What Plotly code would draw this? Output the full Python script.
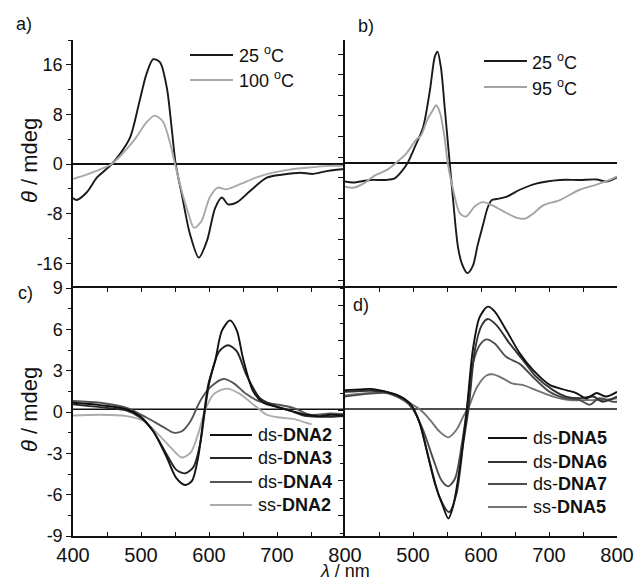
import plotly.graph_objects as go

W, H = 636, 583

# ---- panel a: 25 C vs 100 C ----
a_wl_25 = [400, 405, 420, 435, 445, 457, 469, 484, 498, 508, 518, 528, 538, 545, 551, 560, 572,
           585, 597, 609, 619, 628, 641, 660, 685, 709, 734, 753, 775, 800]
a_cd_25 = [-5.5, -5.8, -4.6, -2.2, -1.2, 0.0, 1.6, 4.3, 10.2, 14.5, 16.9, 16.4, 12.3, 5.9, 0.0, -4.9, -11.3,
           -15.1, -12.4, -7.1, -5.4, -6.5, -6.2, -4.4, -2.2, -1.7, -1.4, -1.6, -1.1, -0.8]
a_wl_100 = [400, 420, 439, 457, 474, 493, 508, 520, 532, 542, 550, 560, 570, 578, 589, 601, 613,
            625, 645, 669, 694, 718, 743, 777, 800]
a_cd_100 = [-2.4, -1.7, -0.9, 0.0, 1.8, 4.3, 6.7, 7.8, 6.9, 3.7, 0.0, -4.4, -8.1, -10.3, -9.2, -5.4, -3.8,
            -4.1, -3.3, -2.2, -1.4, -0.9, -0.6, -0.3, -0.3]

# ---- panel b: 25 C vs 95 C (no scale given) ----
b_wl_25 = [400, 412, 437, 461, 473, 483, 492, 503, 515, 525, 532, 536, 541, 547, 554, 559, 566,
           572, 580, 588, 595, 603, 610, 616, 623, 637, 657, 681, 716, 745, 770, 784, 800]
b_cd_25 = [-1.8, -1.9, -1.65, -1.65, -1.5, -0.84, 0.0, 1.6, 3.5, 7.1, 10.3, 10.8, 9.3, 5.1, 0.0, -3.6, -8.1,
           -9.8, -10.7, -10.0, -8.0, -6.0, -4.3, -3.6, -3.5, -3.3, -2.6, -2.0, -1.65, -1.65, -1.6, -1.8, -1.4]
b_wl_95 = [400, 412, 427, 444, 461, 475, 490, 504, 512, 521, 529, 534, 540, 547, 551, 559, 569,
           578, 591, 603, 616, 633, 652, 665, 677, 692, 716, 745, 770, 789, 800]
b_cd_95 = [-2.3, -2.4, -2.0, -1.2, -0.7, 0.0, 0.9, 2.2, 2.7, 4.2, 5.1, 5.6, 4.8, 2.2, 0.0, -2.6, -4.9,
           -5.2, -4.2, -3.8, -4.1, -4.7, -5.3, -5.4, -4.9, -4.1, -3.6, -2.6, -2.1, -1.65, -1.3]

# ---- panel c ----
c_wl_ds2 = [400, 440, 479, 499, 518, 538, 552, 565, 575, 584, 592, 599, 609, 619, 631, 641, 650,
            665, 680, 700, 719, 744, 763, 778, 800]
c_cd_ds2 = [0.67, 0.5, 0.2, -0.3, -1.4, -3.3, -4.8, -5.3, -5.0, -3.3, -0.4, 2.0, 3.7, 5.9, 6.65, 5.9, 3.9,
            1.5, 0.67, 0.36, 0.1, -0.2, -0.3, -0.2, -0.25]
c_wl_ds3 = [400, 440, 479, 499, 518, 538, 552, 565, 577, 587, 594, 601, 615, 628, 641, 655, 675,
            695, 719, 744, 778, 800]
c_cd_ds3 = [0.55, 0.35, 0.1, -0.4, -1.4, -3.1, -4.2, -4.45, -4.0, -2.3, 0.1, 2.25, 4.4, 4.85, 4.4, 2.7, 1.0,
            0.5, 0.1, -0.3, -0.35, -0.3]
c_wl_ds4 = [400, 440, 479, 508, 533, 548, 560, 573, 587, 601, 621, 636, 655, 675, 700, 724, 749, 778, 800]
c_cd_ds4 = [0.8, 0.67, 0.3, -0.4, -1.1, -1.5, -1.4, -0.65, 0.8, 1.75, 2.4, 2.1, 1.3, 0.75, 0.55, 0.3, -0.2,
            -0.1, -0.15]
c_wl_ss2 = [400, 440, 479, 504, 528, 548, 560, 573, 584, 594, 607, 626, 646, 665, 685, 704, 724, 744, 751]
c_cd_ss2 = [-0.25, -0.2, -0.3, -0.65, -1.75, -2.8, -3.3, -2.95, -1.6, 0.1, 1.3, 1.7, 1.3, 0.55, -0.2, -0.4,
            -0.5, -0.8, -0.9]

# ---- panel d (no scale given) ----
d_wl_ds5 = [400, 422, 437, 461, 481, 496, 510, 520, 532, 544, 552, 559, 569, 579, 588, 598, 610,
            620, 637, 657, 676, 701, 725, 740, 755, 770, 784, 800]
d_cd_ds5 = [1.75, 1.8, 1.85, 1.6, 1.2, 0.6, -1.1, -3.4, -6.2, -8.2, -9.25, -8.2, -4.8, 0.0, 5.2, 8.0, 8.9,
            8.5, 6.9, 4.9, 3.5, 2.2, 1.75, 1.5, 1.05, 1.5, 1.2, 1.6]
d_wl_ds6 = [400, 437, 461, 486, 500, 510, 525, 539, 553, 564, 574, 582, 591, 601, 610, 623, 642,
            662, 681, 706, 725, 745, 765, 779, 800]
d_cd_ds6 = [1.6, 1.7, 1.6, 1.05, 0.2, -1.1, -4.5, -7.4, -8.7, -7.1, -2.8, 0.3, 5.2, 7.3, 7.85, 7.3, 5.75,
            4.3, 2.9, 1.75, 1.2, 1.05, 1.2, 0.75, 1.2]
d_wl_ds7 = [400, 437, 461, 486, 500, 515, 530, 542, 552, 562, 572, 579, 588, 598, 608, 620, 637,
            657, 676, 701, 725, 745, 760, 774, 794, 800]
d_cd_ds7 = [1.2, 1.45, 1.5, 0.9, 0.1, -1.7, -4.2, -6.0, -6.5, -5.8, -2.8, 0.0, 4.0, 5.6, 6.1, 5.75, 4.6,
            4.0, 2.9, 1.6, 1.05, 0.9, 0.5, 1.05, 0.75, 0.75]
d_wl_ss5 = [400, 437, 461, 486, 510, 525, 539, 552, 564, 574, 582, 594, 608, 618, 632, 647, 661,
            681, 706, 730, 755, 779, 800]
d_cd_ss5 = [1.3, 1.5, 1.6, 0.9, 0.1, -0.8, -1.8, -2.3, -1.65, -0.5, 0.3, 2.0, 3.0, 3.1, 2.75, 2.3, 2.2,
            1.75, 1.2, 0.9, 0.9, 0.9, 1.05]

FONT = "Arial, Liberation Sans, sans-serif"


def px(x):
    # window pixel -> paper fraction
    return x / W


def py(y):
    return 1 - y / H


fig = go.Figure()

series = [
    (a_wl_25, a_cd_25, "#1a1a1a", "x", "y"),
    (a_wl_100, a_cd_100, "#a9a9a9", "x", "y"),
    (b_wl_25, b_cd_25, "#1a1a1a", "x2", "y2"),
    (b_wl_95, b_cd_95, "#a3a3a3", "x2", "y2"),
    (c_wl_ss2, c_cd_ss2, "#ababab", "x3", "y3"),
    (c_wl_ds4, c_cd_ds4, "#555555", "x3", "y3"),
    (c_wl_ds3, c_cd_ds3, "#262626", "x3", "y3"),
    (c_wl_ds2, c_cd_ds2, "#111111", "x3", "y3"),
    (d_wl_ss5, d_cd_ss5, "#737373", "x4", "y4"),
    (d_wl_ds7, d_cd_ds7, "#4d4d4d", "x4", "y4"),
    (d_wl_ds6, d_cd_ds6, "#333333", "x4", "y4"),
    (d_wl_ds5, d_cd_ds5, "#111111", "x4", "y4"),
]
for xs, ys, col, xa, ya in series:
    fig.add_trace(go.Scatter(x=xs, y=ys, mode="lines", xaxis=xa, yaxis=ya,
                             line=dict(color=col, width=1.9, shape="spline", smoothing=0.8),
                             showlegend=False, hoverinfo="skip"))

left_dom = [px(73), px(345)]
right_dom = [px(345), px(617)]
top_dom = [py(288), py(40)]
bot_dom = [py(536), py(288)]

hidden_x = dict(range=[400, 800], showline=False, showticklabels=False, ticks="",
                showgrid=False, zeroline=False, automargin=False)
bottom_x = dict(range=[400, 800], showline=True, linecolor="#111", linewidth=1.5,
                mirror="ticks", ticks="inside", ticklen=4, tickwidth=1.2, tickcolor="#111",
                showgrid=False, zeroline=False, automargin=False, ticklabeloverflow="allow",
                minor=dict(dtick=50, ticks="inside", ticklen=4, tickwidth=1.2, tickcolor="#111"),
                tickfont=dict(family=FONT, size=20, color="#111"))
yax = dict(showline=True, linecolor="#111", linewidth=1.5, ticks="outside", ticklen=5,
           tickwidth=1.2, tickcolor="#111", showgrid=False, automargin=False,
           tickfont=dict(family=FONT, size=18, color="#111"))

fig.update_layout(
    width=W, height=H, margin=dict(l=0, r=0, t=0, b=0),
    paper_bgcolor="white", plot_bgcolor="white",
    xaxis=dict(domain=left_dom, anchor="y", **hidden_x),
    xaxis2=dict(domain=right_dom, anchor="y2", **hidden_x),
    xaxis3=dict(domain=left_dom, anchor="y3", tickvals=[400, 500, 600, 700, 800], **bottom_x),
    xaxis4=dict(domain=right_dom, anchor="y4", tickvals=[500, 600, 700, 800], **bottom_x),
    yaxis=dict(domain=top_dom, anchor="x", range=[-20, 20], tickvals=[-16, -8, 0, 8, 16],
               ticktext=["-16", "-8", "0", "8", "16"], zeroline=True, zerolinecolor="#111",
               zerolinewidth=1.5,
               minor=dict(dtick=4, ticks="outside", ticklen=3, tickcolor="#111"), **yax),
    yaxis2=dict(domain=top_dom, anchor="x2", range=[-12.14, 11.94], tick0=0.58, dtick=2,
                showticklabels=False, zeroline=True, zerolinecolor="#111", zerolinewidth=1.5,
                **yax),
    yaxis3=dict(domain=bot_dom, anchor="x3", range=[-9, 9], tickvals=[-9, -6, -3, 0, 3, 6, 9],
                ticktext=["-9", "-6", "-3", "0", "3", "6", "9"], zeroline=False,
                minor=dict(dtick=1.5, ticks="outside", ticklen=3, tickcolor="#111"), **yax),
    yaxis4=dict(domain=bot_dom, anchor="x4", range=[-10.75, 10.5], tick0=0, dtick=3,
                showticklabels=False, zeroline=False,
                minor=dict(dtick=1.5, ticks="outside", ticklen=3, tickcolor="#111"), **yax),
    showlegend=False,
)

# zero lines of the lower panels
for xr, yr, y0 in [("x3 domain", "y3", 0.2), ("x4 domain", "y4", 0.13)]:
    fig.add_shape(type="line", xref=xr, yref=yr, x0=0, x1=1, y0=y0, y1=y0,
                  line=dict(color="#111", width=1.5), layer="below")

# hand-made legends: line sample + label
legends = [
    (190, 233, 237, [(55, "25 <sup>o</sup>C", "#1a1a1a"), (80, "100 <sup>o</sup>C", "#a9a9a9")]),
    (484, 527, 530, [(61, "25 <sup>o</sup>C", "#1a1a1a"), (87, "95 <sup>o</sup>C", "#a3a3a3")]),
    (210, 252, 256, [(435, "ds-<b>DNA2</b>", "#111111"), (458, "ds-<b>DNA3</b>", "#262626"),
                     (482, "ds-<b>DNA4</b>", "#555555"), (505, "ss-<b>DNA2</b>", "#ababab")]),
    (488, 527, 531, [(438, "ds-<b>DNA5</b>", "#111111"), (462, "ds-<b>DNA6</b>", "#333333"),
                     (484, "ds-<b>DNA7</b>", "#4d4d4d"), (507, "ss-<b>DNA5</b>", "#737373")]),
]
for x0, x1, xt, items in legends:
    for yl, txt, col in items:
        fig.add_shape(type="line", xref="paper", yref="paper", x0=px(x0), x1=px(x1),
                      y0=py(yl), y1=py(yl), line=dict(color=col, width=1.9))
        fig.add_annotation(x=px(xt), y=py(yl), xref="paper", yref="paper", text=txt,
                           showarrow=False, xanchor="left", yanchor="middle",
                           font=dict(family=FONT, size=18, color="#111"))

# panel letters
for (x, y, t) in [(24, 24, "a)"), (366, 26, "b)"), (25, 293, "c)"), (361, 305, "d)")]:
    fig.add_annotation(x=px(x), y=py(y), xref="paper", yref="paper", text=t, showarrow=False,
                       xanchor="center", yanchor="middle",
                       font=dict(family=FONT, size=18, color="#111"))

# axis titles
for yc in [160, 409]:
    fig.add_annotation(x=px(29), y=py(yc), xref="paper", yref="paper",
                       text="<i>θ</i> / mdeg", showarrow=False, textangle=-90,
                       xanchor="center", yanchor="middle",
                       font=dict(family=FONT, size=22, color="#111"))
fig.add_annotation(x=px(345), y=py(571), xref="paper", yref="paper", text="<i>λ</i> / nm",
                   showarrow=False, xanchor="center", yanchor="middle",
                   font=dict(family=FONT, size=18, color="#111"))

# drop the default page margin so the figure sits in the window corner
fig.write_html("out.html", config={"displayModeBar": False},
               post_script="document.body.style.margin='0';document.body.style.overflow='hidden';")
